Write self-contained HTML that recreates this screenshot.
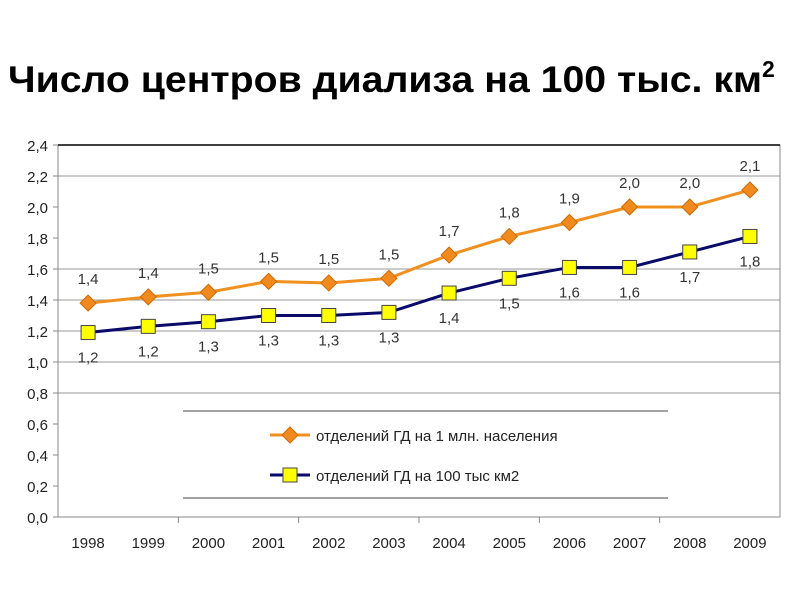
<!DOCTYPE html>
<html><head><meta charset="utf-8"><style>
body{margin:0;background:#fff;}
svg text{font-family:"Liberation Sans","DejaVu Sans",sans-serif;}
</style></head><body>
<svg width="800" height="600" viewBox="0 0 800 600">
<text x="8" y="92" font-size="37" font-weight="bold" fill="#000"><tspan textLength="754" lengthAdjust="spacingAndGlyphs">Число центров диализа на 100 тыс. км</tspan><tspan dy="-15" font-size="23">2</tspan></text>
<g id="plot"></g>
</svg>
<script>
const years=["1998","1999","2000","2001","2002","2003","2004","2005","2006","2007","2008","2009"];
const popValues=[1.38,1.42,1.45,1.52,1.51,1.54,1.69,1.81,1.90,2.00,2.00,2.11];
const popLabels=["1,4","1,4","1,5","1,5","1,5","1,5","1,7","1,8","1,9","2,0","2,0","2,1"];
const areaValues=[1.19,1.23,1.26,1.30,1.30,1.32,1.445,1.54,1.61,1.61,1.71,1.81];
const areaLabels=["1,2","1,2","1,3","1,3","1,3","1,3","1,4","1,5","1,6","1,6","1,7","1,8"];
const yTicks=[0,0.2,0.4,0.6,0.8,1.0,1.2,1.4,1.6,1.8,2.0,2.2,2.4];
const gridVals=[0.8,1.0,1.2,1.4,1.6,2.2];
const L=58,R=780,T=145,B=517,ymax=2.4;
const cw=(R-L)/years.length;
const xs=i=>L+cw*(i+0.5);
const ys=v=>B-(v/ymax)*(B-T);
const NS="http://www.w3.org/2000/svg";
const g=document.getElementById('plot');
function mk(t,a){const e=document.createElementNS(NS,t);for(const k in a)e.setAttribute(k,a[k]);g.appendChild(e);return e;}
gridVals.forEach(v=>{const e=mk('line',{x1:L,x2:R,y1:ys(v),y2:ys(v),stroke:'#999','stroke-width':1});

});
const fr=mk('rect',{x:L,y:T,width:R-L,height:B-T,fill:'none',stroke:'#888','stroke-width':1});


const tl=mk('line',{x1:L,x2:R,y1:T,y2:T,stroke:'#000','stroke-width':1.5});


yTicks.forEach(v=>{const t=mk('text',{x:L-10,y:ys(v)+6,'text-anchor':'end','font-size':15,fill:'#222'});t.textContent=v.toFixed(1).replace('.',',');


const k=mk('line',{x1:L-5,x2:L,y1:ys(v),y2:ys(v),stroke:'#888'});

});
years.forEach((y,i)=>{const t=mk('text',{x:xs(i),y:B+31,'text-anchor':'middle','font-size':15,fill:'#222'});t.textContent=y;


if(i%2==0&&i>0){const k=mk('line',{x1:L+cw*i,x2:L+cw*i,y1:B,y2:B+6,stroke:'#888'});

}});
function series(vals,labs,color,marker,labOff,name){
const pl=mk('polyline',{points:vals.map((v,i)=>xs(i)+','+ys(v)).join(' '),fill:'none',stroke:color,'stroke-width':3});


vals.forEach((v,i)=>{let m;
if(marker=='d'){const x=xs(i),y=ys(v);m=mk('polygon',{points:`${x},${y-8} ${x+8},${y} ${x},${y+8} ${x-8},${y}`,fill:'#f08a1e',stroke:'#d06a00'});}
else{m=mk('rect',{x:xs(i)-7,y:ys(v)-7,width:14,height:14,fill:'#ffff00',stroke:'#444','stroke-width':1});}


const t=mk('text',{x:xs(i),y:ys(v)+labOff,'text-anchor':'middle','font-size':15,fill:'#333'});t.textContent=labs[i];

});}
series(popValues,popLabels,'#f0901e','d',-19,'population-series');
series(areaValues,areaLabels,'#0a0a6a','s',30,'area-series');
const lb=mk('rect',{x:183,y:411,width:485,height:87,fill:'#fff'});


[411,498].forEach(y=>{const e=mk('line',{x1:183,x2:668,y1:y,y2:y,stroke:'#444'});

});
const l1=mk('line',{x1:270,x2:310,y1:435,y2:435,stroke:'#f0901e','stroke-width':3});


const d1=mk('polygon',{points:'290,427 298,435 290,443 282,435',fill:'#f08a1e',stroke:'#d06a00'});


const t1=mk('text',{x:316,y:441,'font-size':15,fill:'#222'});t1.textContent='отделений ГД на 1 млн. населения';


const l2=mk('line',{x1:270,x2:310,y1:475,y2:475,stroke:'#0a0a6a','stroke-width':3});


const d2=mk('rect',{x:283,y:468,width:14,height:14,fill:'#ffff00',stroke:'#444'});


const t2=mk('text',{x:316,y:481,'font-size':15,fill:'#222'});t2.textContent='отделений ГД на 100 тыс км2';


</script>
</body></html>
